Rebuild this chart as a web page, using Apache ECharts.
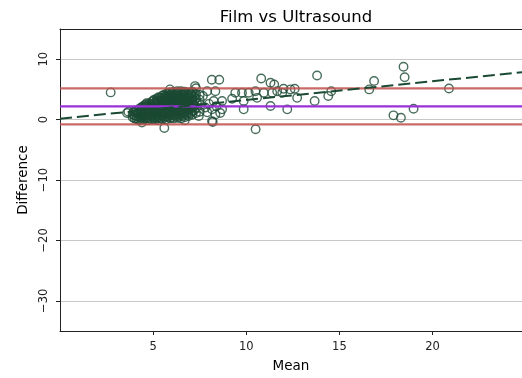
<!DOCTYPE html>
<html>
<head>
<meta charset="utf-8">
<script src="https://cdn.jsdelivr.net/npm/echarts@6/dist/echarts.min.js"></script>
<style>
  html, body { margin: 0; padding: 0; background: #fff; }
  #chart { width: 522px; height: 378px; }
</style>
</head>
<body>
<div id="chart"></div>
<script>
// Bland–Altman: mean of the two measurements vs. their difference (film − ultrasound)

// dense group of small measurements, [mean, difference]
const coreCluster = [
  [3.6, 1.1], [3.9, 0.4], [3.9, 0.9], [3.95, 1.3],
  [4.1, 0.1], [4.1, 0.6], [4.15, 1.0], [4.1, 1.5],
  [4.3, -0.1], [4.3, 0.4], [4.35, 0.9], [4.3, 1.4], [4.3, 1.9],
  [4.5, 0.0], [4.5, 0.5], [4.55, 1.0], [4.5, 1.5], [4.45, 2.0], [4.5, 2.3],
  [4.7, -0.1], [4.7, 0.4], [4.7, 0.9], [4.75, 1.4], [4.7, 1.9], [4.7, 2.3], [4.65, 2.7],
  [4.9, 0.0], [4.9, 0.5], [4.9, 1.0], [4.85, 1.5], [4.9, 2.0], [4.9, 2.5], [4.95, 3.0],
  [5.1, 0.0], [5.1, 0.4], [5.1, 0.9], [5.15, 1.4], [5.1, 1.9], [5.1, 2.4], [5.1, 2.8], [5.05, 3.3],
  [5.3, -0.1], [5.3, 0.4], [5.3, 0.9], [5.3, 1.3], [5.35, 1.8], [5.3, 2.3], [5.3, 2.8], [5.25, 3.2], [5.3, 3.7],
  [5.5, 0.1], [5.5, 0.5], [5.5, 1.0], [5.45, 1.5], [5.5, 2.0], [5.5, 2.5], [5.55, 2.9], [5.5, 3.4], [5.5, 4.0],
  [5.7, 0.0], [5.7, 0.5], [5.7, 1.0], [5.7, 1.5], [5.75, 2.0], [5.7, 2.5], [5.7, 3.0], [5.65, 3.5], [5.7, 3.9], [5.7, 4.3],
  [5.9, 0.2], [5.9, 0.7], [5.9, 1.2], [5.9, 1.7], [5.95, 2.2], [5.9, 2.7], [5.9, 3.2], [5.85, 3.7], [5.9, 4.1], [5.9, 4.5],
  [6.1, 0.2], [6.1, 0.7], [6.1, 1.2], [6.15, 1.7], [6.1, 2.2], [6.1, 2.7], [6.1, 3.2], [6.05, 3.7], [6.1, 4.2], [6.1, 4.6],
  [6.3, 0.3], [6.3, 0.8], [6.3, 1.3], [6.3, 1.8], [6.35, 2.3], [6.3, 2.8], [6.3, 3.3], [6.25, 3.8], [6.3, 4.3], [6.3, 4.7],
  [6.5, 0.2], [6.5, 0.7], [6.5, 1.2], [6.5, 1.7], [6.55, 2.2], [6.5, 2.7], [6.5, 3.2], [6.45, 3.7], [6.5, 4.2], [6.5, 4.7],
  [6.7, 0.4], [6.7, 0.9], [6.7, 1.4], [6.7, 1.9], [6.75, 2.4], [6.7, 2.9], [6.7, 3.4], [6.65, 3.9], [6.7, 4.3], [6.7, 4.6],
  [6.9, 0.6], [6.9, 1.1], [6.9, 1.6], [6.95, 2.1], [6.9, 2.6], [6.9, 3.1], [6.85, 3.6], [6.9, 4.1], [6.9, 4.5],
  [7.1, 0.8], [7.1, 1.4], [7.1, 2.0], [7.15, 2.6], [7.1, 3.2], [7.1, 3.8], [7.05, 4.3], [7.1, 4.6],
  [7.3, 1.1], [7.3, 1.9], [7.35, 2.7], [7.3, 3.5], [7.3, 4.2], [7.3, 5.2],
  [7.5, 1.3], [7.55, 2.4], [7.5, 3.3], [7.5, 4.1], [7.45, 0.6]
];

// further readings packed between the ones above
const coreFill = [
  [4.0, 0.2], [4.0, 0.7], [4.0, 1.2],
  [4.2, 0.0], [4.2, 0.5], [4.2, 1.0], [4.2, 1.5],
  [4.4, 0.2], [4.4, 0.7], [4.4, 1.2], [4.4, 1.7], [4.4, 2.1],
  [4.6, 0.2], [4.6, 0.7], [4.6, 1.2], [4.6, 1.7], [4.6, 2.1], [4.6, 2.5],
  [4.8, 0.2], [4.8, 0.7], [4.8, 1.2], [4.8, 1.7], [4.8, 2.2], [4.8, 2.7],
  [5.0, 0.2], [5.0, 0.7], [5.0, 1.2], [5.0, 1.7], [5.0, 2.2], [5.0, 2.6], [5.0, 3.1],
  [5.2, 0.2], [5.2, 0.6], [5.2, 1.1], [5.2, 1.6], [5.2, 2.1], [5.2, 2.6], [5.2, 3.0], [5.2, 3.5],
  [5.4, 0.2], [5.4, 0.7], [5.4, 1.2], [5.4, 1.7], [5.4, 2.2], [5.4, 2.7], [5.4, 3.1], [5.4, 3.6],
  [5.6, 0.3], [5.6, 0.8], [5.6, 1.3], [5.6, 1.8], [5.6, 2.3], [5.6, 2.7], [5.6, 3.2], [5.6, 3.7], [5.6, 4.1],
  [5.8, 0.4], [5.8, 0.9], [5.8, 1.4], [5.8, 1.9], [5.8, 2.4], [5.8, 2.9], [5.8, 3.4], [5.8, 3.9], [5.8, 4.3],
  [6.0, 0.4], [6.0, 0.9], [6.0, 1.4], [6.0, 1.9], [6.0, 2.4], [6.0, 2.9], [6.0, 3.4], [6.0, 3.9], [6.0, 4.4],
  [6.2, 0.5], [6.2, 1.0], [6.2, 1.5], [6.2, 2.0], [6.2, 2.5], [6.2, 3.0], [6.2, 3.5], [6.2, 4.0], [6.2, 4.5],
  [6.4, 0.5], [6.4, 1.0], [6.4, 1.5], [6.4, 2.0], [6.4, 2.5], [6.4, 3.0], [6.4, 3.5], [6.4, 4.0], [6.4, 4.5],
  [6.6, 0.6], [6.6, 1.1], [6.6, 1.6], [6.6, 2.1], [6.6, 2.6], [6.6, 3.1], [6.6, 3.6], [6.6, 4.1], [6.6, 4.5],
  [6.8, 0.8], [6.8, 1.3], [6.8, 1.8], [6.8, 2.3], [6.8, 2.8], [6.8, 3.3], [6.8, 3.8], [6.8, 4.3],
  [7.0, 1.0], [7.0, 1.7], [7.0, 2.3], [7.0, 2.9], [7.0, 3.5], [7.0, 4.0], [7.0, 4.4],
  [7.2, 1.5], [7.2, 2.3], [7.2, 3.0], [7.2, 3.8], [7.2, 4.4]
];

// scattered points around the main group and in the middle range
const midSpread = [
  [2.72, 4.5], [3.67, 1.3], [4.4, -0.5], [5.6, -1.4], [6.7, -0.1], [8.2, -0.4],
  [5.9, 5.0], [7.25, 5.55], [7.9, 4.7], [8.15, 6.6], [8.55, 6.6],
  [7.67, 3.9], [8.34, 4.7], [8.25, 3.07], [8.7, 3.07], [8.7, 1.7], [8.34, 0.86],
  [8.16, -0.25], [8.16, 1.7], [8.6, 1.1], [7.8, 2.0], [7.9, 1.2], [8.0, 2.6], [8.4, 2.2],
  [9.41, 4.45], [9.24, 3.46], [9.77, 4.45], [9.86, 3.07], [9.86, 1.7], [10.13, 4.45],
  [10.49, 4.7], [10.58, 3.6], [10.94, 4.45], [11.3, 2.24], [11.39, 4.45], [11.66, 4.7],
  [11.93, 4.45], [12.2, 1.7], [12.37, 5.0], [12.73, 3.6],
  [10.5, -1.6], [10.8, 6.8], [11.3, 6.1], [11.5, 5.8], [12.0, 5.1], [12.6, 5.1]
];

// large measurements
const highMeans = [
  [13.8, 7.3], [13.67, 3.07], [14.4, 3.9], [14.56, 4.7],
  [16.6, 5.0], [16.86, 6.4], [18.44, 8.75], [18.5, 7.0],
  [17.9, 0.7], [18.3, 0.3], [18.98, 1.8], [20.88, 5.15]
];

// bias, limits of agreement and fitted trend of the differences
const meanDifference = 2.19;
const upperLimit = 5.17;
const lowerLimit = -0.8;
const trendIntercept = 0.15;
const trendSlope = 0.31;

const xRange = [0, 24.8];
const yRange = [-35, 15];
const xTicks = [5, 10, 15, 20];
const yTicks = [-30, -20, -10, 0, 10];

const FONT = 'DejaVu Sans';
const POINT_COLOR = '#1b4a33';

const points = coreCluster.concat(coreFill, midSpread, highMeans);
const hLine = v => [[xRange[0], v], [xRange[1], v]];
const trend = xRange.map(x => [x, trendIntercept + trendSlope * x]);
const minus = v => String(v).replace('-', '\u2212');

const chart = echarts.init(document.getElementById('chart'), null, { renderer: 'canvas' });

chart.setOption({
  animation: false,
  backgroundColor: '#fff',
  title: {
    text: 'Film vs Ultrasound',
    left: 291, textAlign: 'center', top: 4,
    textStyle: { fontFamily: FONT, fontSize: 16.5, fontWeight: 'normal', color: '#000' }
  },
  grid: { left: 60, right: 0, top: 29, bottom: 47 },
  xAxis: [{
    type: 'value',
    min: xRange[0], max: xRange[1], interval: 5,
    name: 'Mean', nameLocation: 'middle', nameGap: 28,
    nameTextStyle: { fontFamily: FONT, fontSize: 13.5, color: '#000' },
    axisLine: { show: true, onZero: false, lineStyle: { color: '#222', width: 1 } },
    axisTick: { show: true, inside: false, length: 4, lineStyle: { color: '#222' } },
    axisLabel: {
      fontFamily: FONT, fontSize: 11.5, color: '#222', margin: 10,
      showMinLabel: false, showMaxLabel: false,
      formatter: v => xTicks.includes(v) ? minus(v) : ''
    },
    splitLine: { show: false }
  }, {
    type: 'value', position: 'top',
    min: xRange[0], max: xRange[1],
    axisLine: { show: true, onZero: false, lineStyle: { color: '#222', width: 1 } },
    axisTick: { show: false }, axisLabel: { show: false }, splitLine: { show: false }
  }],
  yAxis: {
    type: 'value',
    min: yRange[0], max: yRange[1], splitNumber: 5,
    name: 'Difference', nameLocation: 'middle', nameGap: 30, nameRotate: 90,
    nameTextStyle: { fontFamily: FONT, fontSize: 13.5, color: '#000' },
    axisLine: { show: true, onZero: false, lineStyle: { color: '#222', width: 1 } },
    axisTick: { show: true, inside: false, length: 4, lineStyle: { color: '#222' } },
    axisLabel: {
      fontFamily: FONT, fontSize: 11.5, color: '#222', rotate: 90, margin: 10,
      showMinLabel: false, showMaxLabel: false,
      formatter: v => yTicks.includes(v) ? minus(v) : ''
    },
    splitLine: { show: true, lineStyle: { color: '#c8c8c8', width: 1 } }
  },
  series: [
    {
      type: 'scatter',
      data: points,
      symbol: 'circle',
      symbolSize: 8.5,
      itemStyle: { color: 'rgba(0,0,0,0)', borderColor: POINT_COLOR, borderWidth: 1.4 },
      z: 2,
      silent: true
    },
    {
      type: 'line', data: hLine(upperLimit), symbol: 'none', silent: true, z: 3,
      lineStyle: { color: '#c0504d', width: 2.2, opacity: 0.85 }
    },
    {
      type: 'line', data: hLine(lowerLimit), symbol: 'none', silent: true, z: 3,
      lineStyle: { color: '#c0504d', width: 2.2, opacity: 0.85 }
    },
    {
      type: 'line', data: hLine(meanDifference), symbol: 'none', silent: true, z: 3,
      lineStyle: { color: '#9b30d9', width: 2.2 }
    },
    {
      type: 'line', data: trend, symbol: 'none', silent: true, z: 4,
      lineStyle: { color: POINT_COLOR, width: 2, type: [12, 5] }
    }
  ]
});
</script>
</body>
</html>
